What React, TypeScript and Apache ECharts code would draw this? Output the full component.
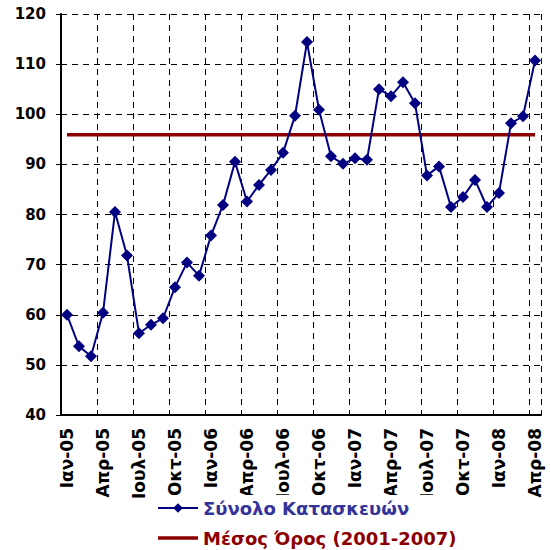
import React, { useEffect, useRef } from "react";
import * as echarts from "echarts";

const MONTHS = ["Ιαν", "Φεβ", "Μαρ", "Απρ", "Μαϊ", "Ιουν", "Ιουλ", "Αυγ", "Σεπ", "Οκτ", "Νοε", "Δεκ"];
const YEARS = ["05", "06", "07", "08"];
const N_MONTHS = 40;
const categories: string[] = [];
for (const y of YEARS) for (const m of MONTHS) categories.push(`${m}-${y}`);
const CATS = categories.slice(0, N_MONTHS);

const totalConstruction = [
  60.0, 53.7, 51.7, 60.4, 80.5, 71.8, 56.3, 58.0, 59.3, 65.5, 70.4, 67.8,
  75.8, 81.9, 90.5, 82.6, 85.9, 88.9, 92.3, 99.7, 114.4, 100.9, 91.6, 90.1,
  91.2, 90.9, 105.0, 103.6, 106.4, 102.2, 87.8, 89.6, 81.5, 83.5, 86.9, 81.5,
  84.3, 98.2, 99.6, 110.7,
];
const AVERAGE_2001_2007 = 95.9;

const SERIES_TOTAL = "Σύνολο Κατασκευών";
const SERIES_AVG = "Μέσος Όρος (2001-2007)";

const FONT = "DejaVu Sans, Verdana, sans-serif";

export default function App() {
  const ref = useRef<HTMLDivElement>(null);
  useEffect(() => {
    if (!ref.current) return;
    const chart = echarts.init(ref.current, undefined, { renderer: "svg" });
    chart.setOption({
      animation: false,
      backgroundColor: "#fff",
      grid: { left: 61, top: 14, right: 10, bottom: 135, containLabel: false },
      legend: {
        orient: "vertical",
        left: 150,
        top: 495,
        itemWidth: 40,
        itemHeight: 12,
        itemGap: 12,
        padding: [4, 30, 2, 7],
        backgroundColor: "#fff",
        data: [
          { name: SERIES_TOTAL, textStyle: { color: "#333399" } },
          {
            name: SERIES_AVG,
            icon: "path://M0 0H40V3.5H0Z",
            itemStyle: { color: "#8B0000" },
            textStyle: { color: "#8B0000" },
          },
        ],
        textStyle: { fontFamily: FONT, fontWeight: "bold", fontSize: 18 },
      },
      xAxis: {
        type: "category",
        data: CATS,
        boundaryGap: true,
        axisLine: { lineStyle: { color: "#000", width: 2 } },
        axisTick: {
          interval: (i: number) => i % 3 === 0,
          length: 5,
          lineStyle: { color: "#000", width: 1 },
        },
        axisLabel: {
          interval: (i: number) => i % 3 === 0,
          rotate: 90,
          margin: 13,
          color: "#000",
          fontFamily: FONT,
          fontWeight: "bold",
          fontSize: 17,
        },
        splitLine: {
          show: true,
          interval: (i: number) => i % 3 === 0,
          lineStyle: { color: "#000", type: [6, 5], width: 1 },
        },
      },
      yAxis: {
        type: "value",
        min: 40,
        max: 120,
        interval: 10,
        axisLine: { show: true, lineStyle: { color: "#000", width: 2 } },
        axisTick: { show: true, length: 5, lineStyle: { color: "#000" } },
        axisLabel: {
          margin: 15,
          color: "#000",
          fontFamily: FONT,
          fontWeight: "bold",
          fontSize: 15,
        },
        splitLine: { show: true, lineStyle: { color: "#000", type: [6, 5], width: 1 } },
      },
      series: [
        {
          name: SERIES_TOTAL,
          type: "line",
          data: totalConstruction,
          symbol: "diamond",
          symbolSize: 12,
          showAllSymbol: true,
          lineStyle: { color: "#000080", width: 2 },
          itemStyle: { color: "#000080" },
          z: 3,
        },
        {
          name: SERIES_AVG,
          type: "line",
          data: [
            [CATS[0], AVERAGE_2001_2007],
            [CATS[CATS.length - 1], AVERAGE_2001_2007],
          ],
          symbol: "none",
          lineStyle: { color: "#8B0000", width: 3.5 },
          itemStyle: { color: "#8B0000" },
          z: 2,
        },
      ],
    });
    return () => chart.dispose();
  }, []);
  return (
    <div
      ref={ref}
      style={{ position: "absolute", left: 0, top: 0, width: 551, height: 550 }}
    />
  );
}
